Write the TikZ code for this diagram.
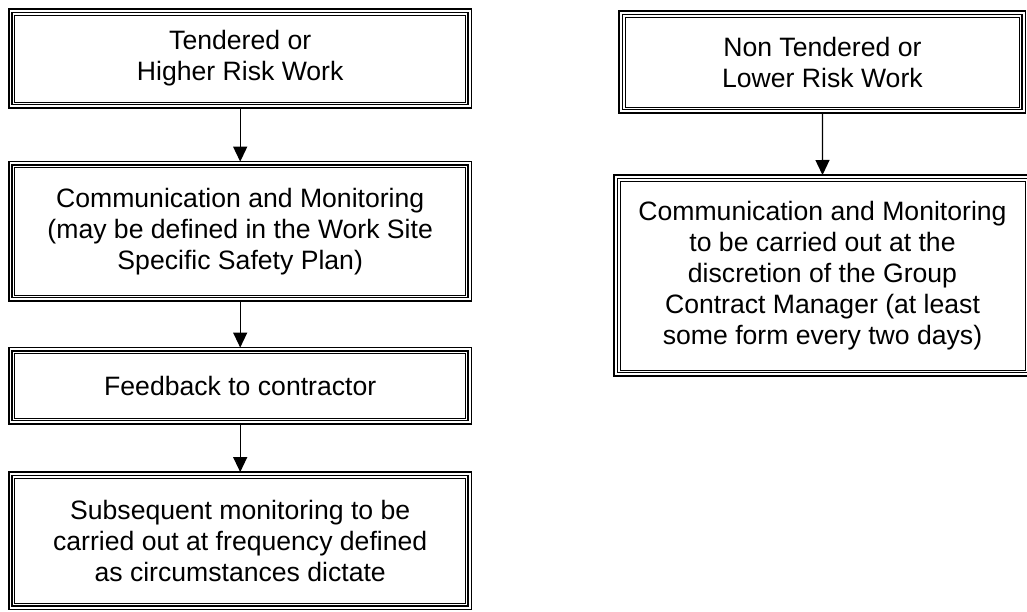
\documentclass[tikz,border=0pt]{standalone}
\usepackage{fontspec}
\setmainfont{Liberation Sans}
\usetikzlibrary{arrows.meta}
\newcommand\tripleframe[1]{%
  \draw[line width=1.8pt] ([shift={(3.5,-3.5)}]#1.north west) rectangle ([shift={(-3.5,3.5)}]#1.south east);
  \draw[line width=0.9pt] ([shift={(6,-6)}]#1.north west) rectangle ([shift={(-6,6)}]#1.south east);}
\tikzset{
  box/.style={rectangle, draw=black, line width=1.4pt, inner sep=0pt, outer sep=0pt,
    align=center, font=\fontsize{26.6}{31}\selectfont},
  flow/.style={line width=1.3pt, -{Triangle[length=15pt,width=14pt]}}
}
\begin{document}
\begin{tikzpicture}[x=1pt,y=1pt]
\useasboundingbox (0,0) rectangle (1027,-612);
\clip (0,0) rectangle (1027,-612);
\fill[white] (0,0) rectangle (1027,-612);
% left column
\node[box, minimum width=462.7pt, minimum height=99pt] (a) at (240.2,-58.5) {Tendered or\\Higher Risk Work};
\node[box, minimum width=462.7pt, minimum height=139.3pt] (b) at (240.2,-231.3) {Communication and Monitoring\\(may be defined in the Work Site\\Specific Safety Plan)};
\node[box, minimum width=462.7pt, minimum height=76.5pt] (c) at (240.2,-385.8) {Feedback to contractor};
\node[box, minimum width=462.7pt, minimum height=137.5pt] (d) at (240.2,-540.8) {Subsequent monitoring to be\\carried out at frequency defined\\as circumstances dictate};
% right column
\node[box, minimum width=406.7pt, minimum height=102pt] (e) at (822.4,-62) {Non Tendered or\\Lower Risk Work};
\node[box, minimum width=417pt, minimum height=201pt] (f) at (822.5,-275.5) {Communication and Monitoring\\to be carried out at the\\discretion of the Group\\Contract Manager (at least\\some form every two days)};
\tripleframe{a}\tripleframe{b}\tripleframe{c}\tripleframe{d}\tripleframe{e}\tripleframe{f}
\draw[flow] (a.south) -- (b.north);
\draw[flow] (b.south) -- (c.north);
\draw[flow] (c.south) -- (d.north);
\draw[flow] (e.south) -- (f.north);
\end{tikzpicture}
\end{document}
